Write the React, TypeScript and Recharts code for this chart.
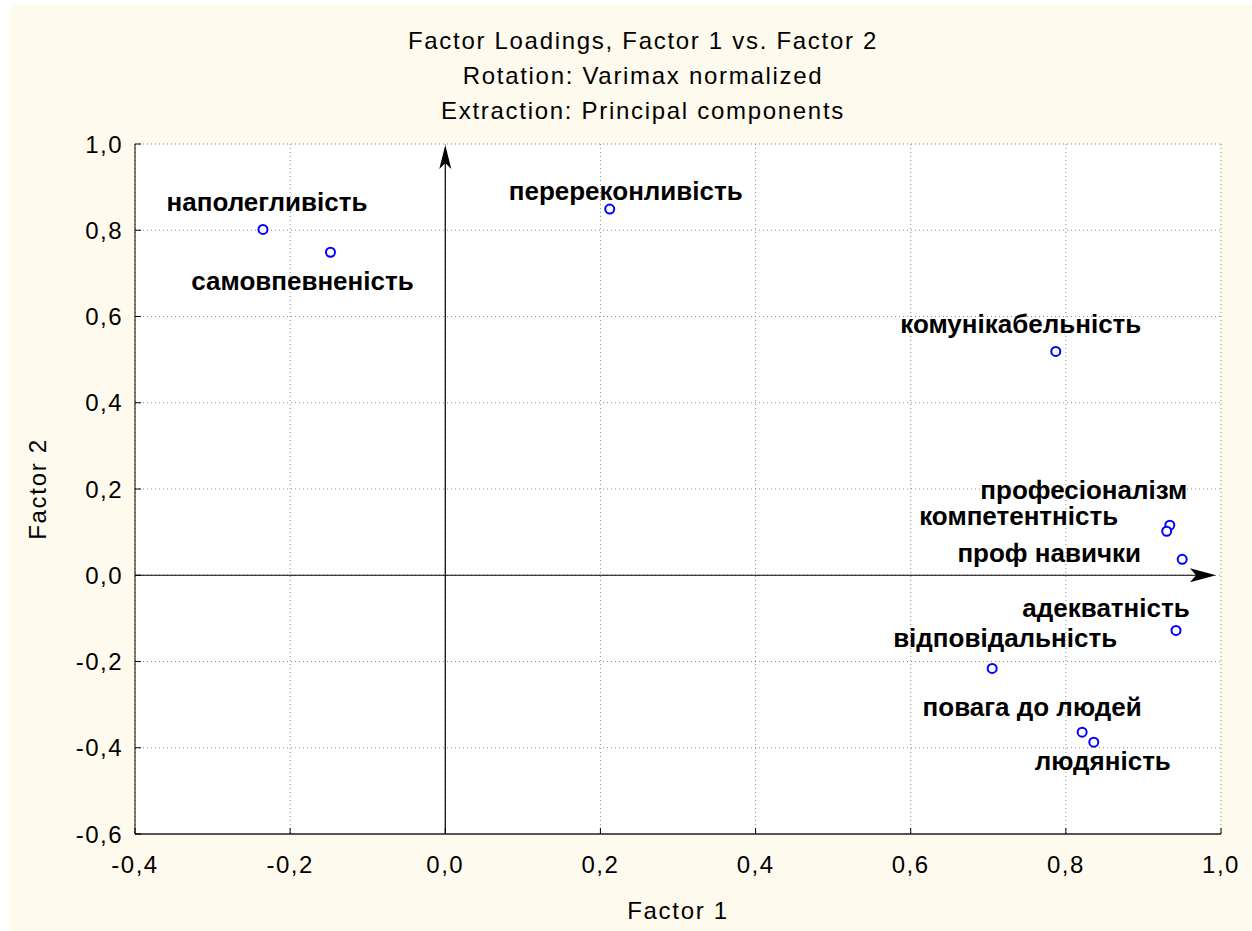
import {
  ScatterChart,
  Scatter,
  XAxis,
  YAxis,
  CartesianGrid,
  ReferenceLine,
} from "recharts";

// factor loadings
const names = [
  "наполегливість",
  "самовпевненість",
  "перереконливість",
  "комунікабельність",
  "професіоналізм",
  "компетентність",
  "проф навички",
  "адекватність",
  "відповідальність",
  "повага до людей",
  "людяність",
];
const factor1 = [-0.235, -0.148, 0.212, 0.787, 0.934, 0.93, 0.95, 0.942, 0.705, 0.821, 0.836];
const factor2 = [0.802, 0.749, 0.849, 0.519, 0.116, 0.102, 0.037, -0.128, -0.216, -0.364, -0.387];

const xTicks = [-0.4, -0.2, 0, 0.2, 0.4, 0.6, 0.8, 1.0];
const yTicks = [-0.6, -0.4, -0.2, 0, 0.2, 0.4, 0.6, 0.8, 1.0];

const titleLines = [
  "Factor Loadings, Factor 1 vs. Factor 2",
  "Rotation: Varimax normalized",
  "Extraction: Principal components",
];

// where each point's label sits, relative to the marker (px)
const labelDx = [4, -28, 16, -35, -86, -148, -133, -70, 13, -50, 9];
const labelDy = [-18, 38, -9, -18, -26, -6, 3, -13, -21, -16, 28];

const points = names.map((name, i) => ({ name, f1: factor1[i], f2: factor2[i], i }));

const font = "'Liberation Sans', Arial, sans-serif";
const fmt = (v: number) => v.toFixed(1).replace(".", ",");

const Marker = (props: any) => {
  const { cx, cy, payload } = props;
  const i = payload.i;
  return (
    <g>
      <text
        x={cx + labelDx[i]}
        y={cy + labelDy[i]}
        textAnchor="middle"
        fontFamily={font}
        fontWeight="bold"
        fontSize={26}
        fill="#000"
      >
        {payload.name}
      </text>
      <circle cx={cx} cy={cy} r={4.5} fill="#fff" stroke="#0000ff" strokeWidth={2} />
    </g>
  );
};

const VArrow = (props: any) => {
  const { x1, y1, y2 } = props;
  const top = Math.min(y1, y2) + 1;
  const bottom = Math.max(y1, y2);
  return (
    <g>
      <line x1={x1} y1={bottom} x2={x1} y2={top + 12} stroke="#000" strokeWidth={1.2} />
      <polygon
        points={`${x1},${top} ${x1 + 6},${top + 24} ${x1},${top + 18} ${x1 - 6},${top + 24}`}
        fill="#000"
      />
    </g>
  );
};

const HArrow = (props: any) => {
  const { x1, x2, y1 } = props;
  const left = Math.min(x1, x2);
  const tip = Math.max(x1, x2) - 5;
  return (
    <g>
      <line x1={left} y1={y1} x2={tip - 12} y2={y1} stroke="#000" strokeWidth={1.2} />
      <polygon
        points={`${tip},${y1} ${tip - 26},${y1 - 7} ${tip - 20},${y1} ${tip - 26},${y1 + 7}`}
        fill="#000"
      />
    </g>
  );
};

const tickStyle = { fontSize: 24, fill: "#000", fontFamily: font, letterSpacing: 1.5 };
const axisTitle = { fontSize: 24, fill: "#000", fontFamily: font, letterSpacing: 1.7 };

export default function App() {
  return (
    <div style={{ position: "absolute", left: 0, top: 0, width: 1252, height: 931, background: "#fff" }}>
      <div style={{ position: "absolute", left: 10, top: 5, right: 0, bottom: 0, background: "#fffaee" }} />
      <div style={{ position: "absolute", left: 0, top: 0 }}>
        <ScatterChart width={1252} height={931} margin={{ top: 144, right: 31, bottom: 37, left: 35 }}>
          <CartesianGrid stroke="#8c8c8c" strokeDasharray="1 3" fill="#fff" />
          <XAxis
            dataKey="f1"
            type="number"
            domain={[-0.4, 1]}
            ticks={xTicks}
            tickFormatter={fmt}
            height={60}
            tickSize={-6}
            tickMargin={28}
            tick={tickStyle}
            axisLine={{ stroke: "#555", strokeWidth: 2 }}
            tickLine={{ stroke: "#000" }}
            label={{ value: "Factor 1", position: "bottom", offset: 8, ...axisTitle }}
          />
          <XAxis
            xAxisId="top"
            orientation="top"
            type="number"
            domain={[-0.4, 1]}
            ticks={xTicks}
            tickFormatter={() => ""}
            height={0}
            mirror
            tickSize={6}
            axisLine={{ stroke: "#000" }}
            tickLine={{ stroke: "#000" }}
          />
          <YAxis
            dataKey="f2"
            type="number"
            domain={[-0.6, 1]}
            ticks={yTicks}
            tickFormatter={fmt}
            width={100}
            tickSize={-6}
            tickMargin={18}
            tick={tickStyle}
            axisLine={{ stroke: "#000" }}
            tickLine={{ stroke: "#000" }}
            label={{
              value: "Factor 2",
              angle: -90,
              position: "insideLeft",
              offset: 2,
              ...axisTitle,
              style: { textAnchor: "middle" },
            }}
          />
          <YAxis
            yAxisId="right"
            orientation="right"
            type="number"
            domain={[-0.6, 1]}
            ticks={yTicks}
            tickFormatter={() => ""}
            width={0}
            mirror
            tickSize={6}
            axisLine={{ stroke: "#000" }}
            tickLine={{ stroke: "#000" }}
          />
          <ReferenceLine x={0} shape={VArrow} />
          <ReferenceLine y={0} shape={HArrow} />
          <Scatter data={points} dataKey="f2" shape={Marker} isAnimationActive={false} />
        </ScatterChart>
      </div>
      {titleLines.map((t, k) => (
        <div
          key={k}
          style={{
            position: "absolute",
            left: 293,
            width: 700,
            top: 29 + k * 35,
            textAlign: "center",
            fontFamily: font,
            fontSize: 24,
            lineHeight: "24px",
            letterSpacing: 1.7,
            color: "#000",
          }}
        >
          {t}
        </div>
      ))}
    </div>
  );
}
